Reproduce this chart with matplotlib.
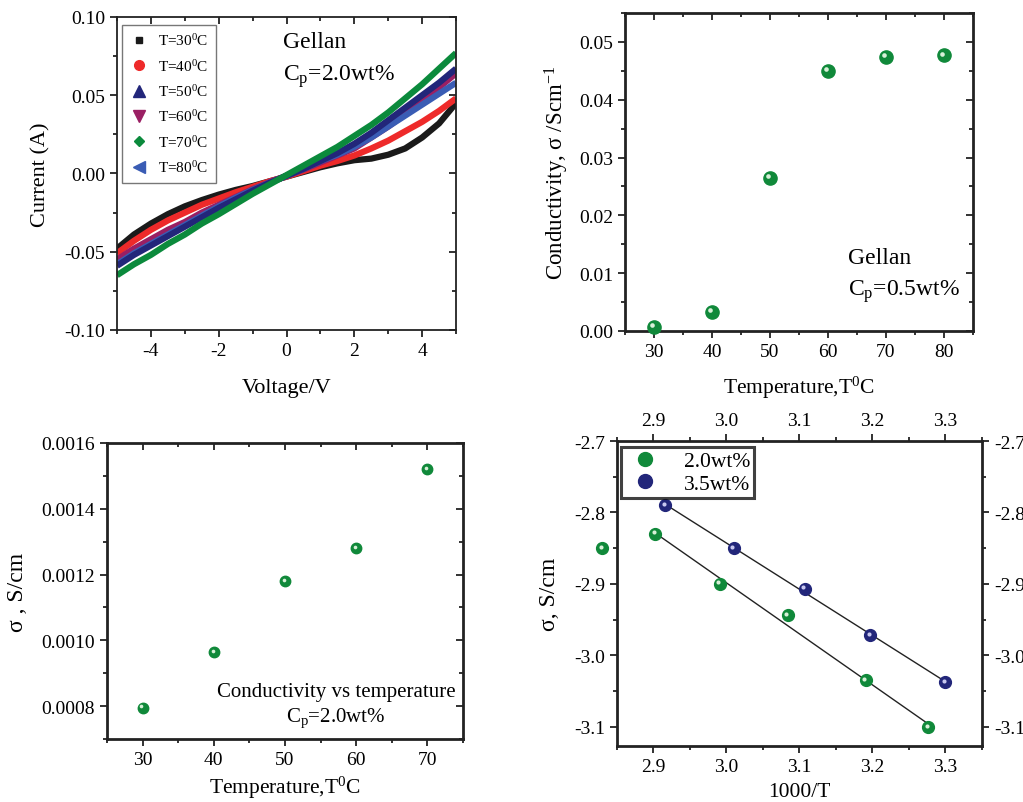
import numpy as np
import matplotlib
matplotlib.use('Agg')
import matplotlib.pyplot as plt
from matplotlib.lines import Line2D
from matplotlib.ticker import MultipleLocator
import matplotlib.transforms as mtransforms

plt.rcParams['font.family'] = 'Liberation Serif'
plt.rcParams['mathtext.fontset'] = 'custom'
plt.rcParams['mathtext.rm'] = 'Liberation Serif'
plt.rcParams['mathtext.it'] = 'Liberation Serif:italic'
plt.rcParams['axes.unicode_minus'] = False

# I-V curves, Gellan 2.0 wt%
voltage = [-5, -4.5, -4, -3.5, -3, -2.5, -2, -1.5, -1, -0.5, 0,
           0.5, 1, 1.5, 2, 2.5, 3, 3.5, 4, 4.5, 5]
i_30 = [-0.048, -0.039, -0.032, -0.026, -0.021, -0.017, -0.0135, -0.0105, -0.008, -0.005, -0.002,
        0.001, 0.004, 0.0065, 0.0085, 0.0095, 0.012, 0.016, 0.023, 0.032, 0.045]
i_40 = [-0.051, -0.043, -0.036, -0.030, -0.025, -0.020, -0.016, -0.012, -0.0085, -0.005, -0.002,
        0.0015, 0.005, 0.008, 0.0115, 0.016, 0.021, 0.027, 0.033, 0.040, 0.048]
i_50 = [-0.059, -0.052, -0.046, -0.040, -0.034, -0.028, -0.022, -0.0165, -0.011, -0.006, -0.0015,
        0.003, 0.008, 0.013, 0.019, 0.026, 0.034, 0.042, 0.050, 0.058, 0.067]
i_60 = [-0.055, -0.048, -0.042, -0.036, -0.031, -0.025, -0.020, -0.015, -0.010, -0.0055, -0.0015,
        0.0025, 0.007, 0.0115, 0.016, 0.023, 0.030, 0.038, 0.046, 0.055, 0.064]
i_70 = [-0.065, -0.058, -0.052, -0.045, -0.039, -0.032, -0.026, -0.0195, -0.013, -0.007, -0.001,
        0.005, 0.011, 0.017, 0.024, 0.031, 0.039, 0.048, 0.057, 0.067, 0.077]
i_80 = [-0.058, -0.051, -0.045, -0.039, -0.033, -0.027, -0.021, -0.0155, -0.0105, -0.006, -0.0015,
        0.003, 0.008, 0.012, 0.017, 0.023, 0.030, 0.037, 0.044, 0.051, 0.058]
iv_labels = ['T=30$^\\mathrm{0}$C', 'T=40$^\\mathrm{0}$C', 'T=50$^\\mathrm{0}$C',
             'T=60$^\\mathrm{0}$C', 'T=70$^\\mathrm{0}$C', 'T=80$^\\mathrm{0}$C']
iv_colors = ['#1a1a1a', '#ee2a2a', '#22267a', '#9a1f63', '#0b8a3c', '#3a5cb4']
iv_markers = ['s', 'o', '^', 'v', 'D', '<']
iv_msizes = [5, 7, 8, 8, 5, 8]

# conductivity vs temperature, 0.5 wt%
temp_a = [30, 40, 50, 60, 70, 80]
cond_a = [0.0007, 0.0033, 0.0265, 0.0450, 0.0474, 0.0477]

# conductivity vs temperature, 2.0 wt%
temp_b = [30, 40, 50, 60, 70]
cond_b = [0.000795, 0.000965, 0.00118, 0.00128, 0.00152]

# Arrhenius plot
inv_t_20 = [2.830, 2.902, 2.991, 3.084, 3.191, 3.276]
log_s_20 = [-2.850, -2.830, -2.900, -2.944, -3.035, -3.101]
inv_t_35 = [2.916, 3.010, 3.107, 3.197, 3.300]
log_s_35 = [-2.790, -2.850, -2.907, -2.972, -3.038]

fig = plt.figure(figsize=(10.23, 8.03), dpi=100)


def style(ax, lw=1.5):
    for s in ax.spines.values():
        s.set_linewidth(lw)
        s.set_color('#222222')
    ax.tick_params(which='both', direction='out', top=True, right=True, labelsize=14,
                   width=1.3, color='#222222')
    ax.tick_params(which='major', length=5)
    ax.tick_params(which='minor', length=3)


def ball(ax, x, y, color, light, size, **kw):
    ax.plot(x, y, 'o', ms=size, color=color, mec=color, **kw)
    off = mtransforms.offset_copy(ax.transData, fig=fig, x=-size * 0.12, y=size * 0.12, units='points')
    ax.plot(x, y, 'o', ms=size * 0.35, color=light, mec='none', transform=off, **kw)


# ---- top left: I-V ----
ax1 = fig.add_axes([0.1144, 0.5878, 0.3314, 0.3898])
for cur, c in zip([i_30, i_40, i_60, i_80, i_50, i_70],
                  ['#1a1a1a', '#ee2a2a', '#9a1f63', '#3a5cb4', '#22267a', '#0b8a3c']):
    ax1.plot(voltage, cur, color=c, lw=4.5, solid_capstyle='butt', solid_joinstyle='round')
ax1.set_xlim(-5, 5)
ax1.set_ylim(-0.1, 0.1)
ax1.xaxis.set_major_locator(MultipleLocator(2))
ax1.xaxis.set_minor_locator(MultipleLocator(1))
ax1.yaxis.set_major_locator(MultipleLocator(0.05))
ax1.yaxis.set_minor_locator(MultipleLocator(0.025))
ax1.yaxis.set_major_formatter(plt.FormatStrFormatter('%.2f'))
style(ax1, 1.3)
ax1.set_xlabel('Voltage/V', fontsize=16, labelpad=14)
ax1.set_ylabel('Current (A)', fontsize=16, labelpad=10)
handles = [Line2D([], [], ls='none', marker=m, color=c, ms=s)
           for m, c, s in zip(iv_markers, iv_colors, iv_msizes)]
ax1.legend(handles, iv_labels, loc='upper left', bbox_to_anchor=(0.005, 0.985), fontsize=11,
           frameon=True, fancybox=False, edgecolor='#555555', handletextpad=0.6, labelspacing=0.62,
           borderpad=0.5, handlelength=1.3, borderaxespad=0.2)
ax1.text(0.49, 0.955, 'Gellan', transform=ax1.transAxes, fontsize=17, va='top')
ax1.text(0.49, 0.855, 'C$_\\mathrm{p}$=2.0wt%', transform=ax1.transAxes, fontsize=17, va='top')

# ---- top right: conductivity 0.5 wt% ----
ax2 = fig.add_axes([0.6109, 0.5866, 0.3402, 0.3960])
ball(ax2, temp_a, cond_a, '#10893a', '#d8f0d8', 9.5, clip_on=False, zorder=3)
ax2.set_xlim(25, 85)
ax2.set_ylim(0, 0.055)
ax2.xaxis.set_major_locator(MultipleLocator(10))
ax2.xaxis.set_minor_locator(MultipleLocator(5))
ax2.yaxis.set_major_locator(MultipleLocator(0.01))
ax2.yaxis.set_minor_locator(MultipleLocator(0.005))
ax2.yaxis.set_major_formatter(plt.FormatStrFormatter('%.2f'))
style(ax2, 2)
ax2.set_xlabel('Temperature,T$^\\mathrm{0}$C', fontsize=15.5, labelpad=10)
ax2.set_ylabel('Conductivity, σ /Scm$^{\\mathrm{-1}}$', fontsize=16.5, labelpad=6)
ax2.text(0.64, 0.265, 'Gellan', transform=ax2.transAxes, fontsize=17, va='top')
ax2.text(0.64, 0.17, 'C$_\\mathrm{p}$=0.5wt%', transform=ax2.transAxes, fontsize=17, va='top')

# ---- bottom left: conductivity 2.0 wt% ----
ax3 = fig.add_axes([0.1046, 0.0785, 0.3480, 0.3686])
ball(ax3, temp_b, cond_b, '#10893a', '#d8f0d8', 7.5, zorder=3)
ax3.set_xlim(25, 75)
ax3.set_ylim(0.0007, 0.0016)
ax3.xaxis.set_major_locator(MultipleLocator(10))
ax3.xaxis.set_minor_locator(MultipleLocator(5))
ax3.yaxis.set_major_locator(MultipleLocator(0.0002))
ax3.yaxis.set_minor_locator(MultipleLocator(0.0001))
ax3.yaxis.set_major_formatter(plt.FormatStrFormatter('%.4f'))
style(ax3, 2)
ax3.set_xlabel('Temperature,T$^\\mathrm{0}$C', fontsize=15.5, labelpad=4)
ax3.set_ylabel('σ , S/cm', fontsize=17, labelpad=10)
ax3.text(0.643, 0.16, 'Conductivity vs temperature', transform=ax3.transAxes, fontsize=15,
         ha='center', va='center')
ax3.text(0.643, 0.075, 'C$_\\mathrm{p}$=2.0wt%', transform=ax3.transAxes, fontsize=15,
         ha='center', va='center')

# ---- bottom right: Arrhenius ----
ax4 = fig.add_axes([0.6031, 0.0697, 0.3568, 0.3798])
fit20 = np.polyfit(inv_t_20[1:], log_s_20[1:], 1)
fit35 = np.polyfit(inv_t_35, log_s_35, 1)
xs20 = np.array([inv_t_20[1], inv_t_20[-1]])
xs35 = np.array([inv_t_35[0], inv_t_35[-1]])
ax4.plot(xs20, np.polyval(fit20, xs20), color='#222222', lw=1)
ax4.plot(xs35, np.polyval(fit35, xs35), color='#222222', lw=1)
ball(ax4, inv_t_20, log_s_20, '#10893a', '#d8f0d8', 8.5, clip_on=False, zorder=3)
ball(ax4, inv_t_35, log_s_35, '#22267a', '#c8c8f0', 8.5, clip_on=False, zorder=3)
ax4.set_xlim(2.85, 3.35)
ax4.set_ylim(-3.127, -2.7)
ax4.xaxis.set_major_locator(MultipleLocator(0.1))
ax4.xaxis.set_minor_locator(MultipleLocator(0.05))
ax4.yaxis.set_major_locator(MultipleLocator(0.1))
ax4.yaxis.set_minor_locator(MultipleLocator(0.05))
ax4.xaxis.set_major_formatter(plt.FormatStrFormatter('%.1f'))
ax4.yaxis.set_major_formatter(plt.FormatStrFormatter('%.1f'))
style(ax4, 2)
ax4.tick_params(labeltop=True, labelright=True)
ax4.set_xlabel('1000/T', fontsize=15.5, labelpad=5)
ax4.set_ylabel('σ, S/cm', fontsize=17, labelpad=10)
h4 = [Line2D([], [], ls='none', marker='o', color='#10893a', ms=10),
      Line2D([], [], ls='none', marker='o', color='#22267a', ms=10)]
leg = ax4.legend(h4, ['2.0wt%', '3.5wt%'], loc='upper left', bbox_to_anchor=(0.0, 0.995), fontsize=15.5,
                 frameon=True, fancybox=False, edgecolor='#111111', handletextpad=0.9, labelspacing=0.12,
                 borderpad=0.2, handlelength=1.8, borderaxespad=0.2)
leg.get_frame().set_linewidth(2.2)

# inner ticks on top/right for the first three panels
for ax in (ax1, ax2, ax3):
    for line in ax.xaxis.get_ticklines(minor=False)[1::2] + ax.xaxis.get_ticklines(minor=True)[1::2]:
        line.set_marker(3)
    for line in ax.yaxis.get_ticklines(minor=False)[1::2] + ax.yaxis.get_ticklines(minor=True)[1::2]:
        line.set_marker(0)

fig.savefig('out.png', dpi=100)
